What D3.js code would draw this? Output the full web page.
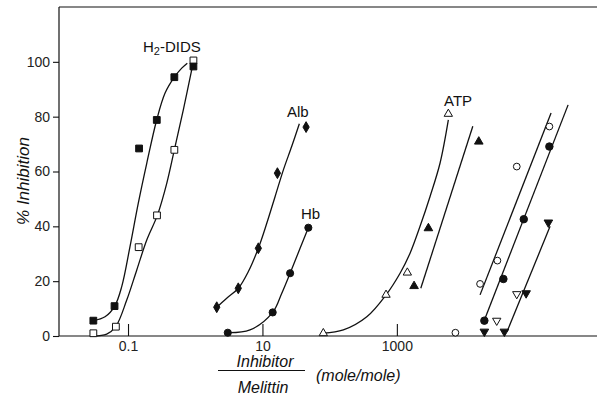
<!DOCTYPE html>
<html><head><meta charset="utf-8">
<script src="https://cdn.jsdelivr.net/npm/d3@7"></script>
<style>body{margin:0;background:#fff}svg{display:block}</style>
</head><body>
<svg id="c" width="597" height="400"></svg>
<script>
// ---- data (x = inhibitor/melittin mole ratio, y = % inhibition) ----
const xTicks = [0.1, 10, 1000];
const xTickLabels = ["0.1", "10", "1000"];
const yTicks = [0, 20, 40, 60, 80, 100];

const didsFilled = [[0.0305,5.6],[0.063,10.9],[0.146,68.4],[0.268,78.8],[0.489,94.4],[0.94,98.3]];
const didsOpen   = [[0.0305,1.0],[0.066,3.4],[0.144,32.4],[0.27,44.0],[0.489,67.9],[0.94,100.5]];
const didsFilledCurve = [[0.0305,5.6],[0.0455,7.0],[0.0634,10.9],[0.0806,18.0],[0.107,32.6],[0.142,48.4],[0.19,63.0],[0.267,78.8],[0.356,88.6],[0.489,94.4],[0.63,97.7],[0.762,99.5]];
const didsOpenCurve = [[0.0305,0.0],[0.0482,0.7],[0.0656,3.4],[0.0957,13.1],[0.135,24.1],[0.19,35.0],[0.273,44.0],[0.377,55.7],[0.489,67.9],[0.665,82.5],[0.918,98.9]];

const alb = [[2.09,10.5],[4.37,17.4],[8.69,32.0],[16.7,59.4],[44.6,76.2]];
const albCurve = [[2.09,10.5],[2.94,13.8],[4.38,17.4],[6.17,23.5],[8.69,32.0],[11.6,41.1],[15.4,50.8],[20.5,60.6],[27.3,69.2],[35.4,77.4]];

const hb = [[3.05,1.2],[14.2,8.6],[25.8,22.9],[48.2,39.5]];
const hbCurve = [[3.05,1.2],[6.53,2.2],[14.2,8.6],[19.4,15.6],[25.8,22.9],[36.3,32.0],[48.2,39.5]];

const atpOpen = [[80.5,1.0],[690,15.0],[1432,23.1],[5830,81.0]];
const atpOpenCurve = [[80.5,1.0],[160,2.2],[357,7.0],[691,15.0],[1116,22.9],[1572,30.2],[2213,40.0],[3119,50.9],[4395,63.1],[5835,78.8]];
const atpFilled = [[1803,18.2],[2946,39.3],[16550,70.9]];
const atpFilledLine = [[2270,17.4],[13490,76.5]];

const circOpen = [[7430,1.2],[17290,19.0],[31330,27.5],[60800,61.8],[185800,76.4]];
const circOpenLine = [[17290,15.0],[197000,81.3]];
const circFilled = [[20040,5.6],[38450,20.8],[77300,42.6],[185800,69.1]];
const circFilledLine = [[20560,6.5],[353000,84.3]];
const invTriOpen = [[30600,5.6],[60800,15.3]];
const invTriFilled = [[20040,1.6],[39800,1.6],[83800,15.6],[179500,41.4]];
const invTriFilledLine = [[43600,1.6],[190500,40.0]];

// ---- chart ----
const svg = d3.select("#c");
const W = 597, H = 400;
const m = {left: 59, right: 0, top: 7, bottom: 64};
const x = d3.scaleLog().domain([0.0094, 9.5e5]).range([m.left, W - m.right]);
const y = d3.scaleLinear().domain([0, 120]).range([H - m.bottom, m.top]);
const ink = "#111";
const font = "'Liberation Sans', Arial, sans-serif";

// frame: left, bottom, top
svg.append("line").attr("x1", m.left).attr("x2", W).attr("y1", y(120)).attr("y2", y(120))
  .attr("stroke", ink).attr("stroke-width", 1.2);

const yAxis = svg.append("g").attr("transform", `translate(${m.left},0)`)
  .call(d3.axisLeft(y).tickValues(yTicks).tickSize(6).tickPadding(3).tickFormat(d3.format("d")));
yAxis.select(".domain").attr("d", `M0,${y(0)}V${y(120)}`).attr("stroke", ink).attr("stroke-width", 1.2);

const xAxis = svg.append("g").attr("transform", `translate(0,${y(0)})`)
  .call(d3.axisBottom(x).tickValues(xTicks).tickSize(-12).tickPadding(5)
    .tickFormat((d, i) => xTickLabels[i]));
xAxis.select(".domain").attr("d", `M${m.left},0H${W}`).attr("stroke", ink).attr("stroke-width", 1.2);

[xAxis, yAxis].forEach(g => {
  g.selectAll(".tick line").attr("stroke", ink).attr("stroke-width", 1.1);
  g.selectAll(".tick text").attr("font-family", font).attr("font-size", 14).attr("fill", "#222");
});

// curves
const lineGen = d3.line().x(d => x(d[0])).y(d => y(d[1]));
const smooth = d3.line().x(d => x(d[0])).y(d => y(d[1])).curve(d3.curveCatmullRom.alpha(0.5));
[didsFilledCurve, didsOpenCurve, albCurve, hbCurve, atpOpenCurve].forEach(c =>
  svg.append("path").attr("d", smooth(c)).attr("fill", "none").attr("stroke", ink).attr("stroke-width", 1.3));
[atpFilledLine, circOpenLine, circFilledLine, invTriFilledLine].forEach(c =>
  svg.append("path").attr("d", lineGen(c)).attr("fill", "none").attr("stroke", ink).attr("stroke-width", 1.3));

// markers
function marks(data, type, size, filled, rot) {
  svg.append("g").selectAll("path").data(data).join("path")
    .attr("d", d3.symbol().type(type).size(size))
    .attr("transform", d => `translate(${x(d[0])},${y(d[1])})` + (rot ? " rotate(180)" : ""))
    .attr("fill", filled ? ink : "#fff")
    .attr("stroke", ink).attr("stroke-width", 1);
}
marks(didsOpen, d3.symbolSquare, 46, false);
marks(didsFilled, d3.symbolSquare, 46, true);
marks(alb, d3.symbolDiamond, 34, true);
marks(hb, d3.symbolCircle, 40, true);
marks(atpOpen, d3.symbolTriangle, 30, false);
marks(atpFilled, d3.symbolTriangle, 32, true);
marks(circOpen, d3.symbolCircle, 36, false);
marks(circFilled, d3.symbolCircle, 44, true);
marks(invTriOpen, d3.symbolTriangle, 30, false, true);
marks(invTriFilled, d3.symbolTriangle, 32, true, true);

// series labels
function label(txt, lx, ly) {
  return svg.append("text").attr("x", lx).attr("y", ly).attr("font-family", font)
    .attr("font-size", 15).attr("fill", ink).text(txt);
}
const dl = svg.append("text").attr("x", 143).attr("y", 52).attr("font-family", font)
  .attr("font-size", 15).attr("fill", ink);
dl.append("tspan").text("H");
dl.append("tspan").attr("font-size", 11).attr("dy", 3).text("2");
dl.append("tspan").attr("dy", -3).text("-DIDS");
label("Alb", 287, 117);
label("Hb", 301, 219);
label("ATP", 444, 106);

// axis titles
svg.append("text").attr("transform", "translate(29,181) rotate(-90)")
  .attr("text-anchor", "middle").attr("font-family", font).attr("font-style", "italic")
  .attr("font-size", 17).attr("fill", ink).text("% Inhibition");
svg.append("text").attr("x", 265).attr("y", 367).attr("text-anchor", "middle")
  .attr("font-family", font).attr("font-style", "italic").attr("font-size", 16).attr("fill", ink).text("Inhibitor");
svg.append("line").attr("x1", 218).attr("x2", 305).attr("y1", 370.5).attr("y2", 370.5)
  .attr("stroke", ink).attr("stroke-width", 1.2);
svg.append("text").attr("x", 263).attr("y", 393).attr("text-anchor", "middle")
  .attr("font-family", font).attr("font-style", "italic").attr("font-size", 16).attr("fill", ink).text("Melittin");
svg.append("text").attr("x", 316).attr("y", 381)
  .attr("font-family", font).attr("font-style", "italic").attr("font-size", 16).attr("fill", ink).text("(mole/mole)");
</script>
</body></html>
